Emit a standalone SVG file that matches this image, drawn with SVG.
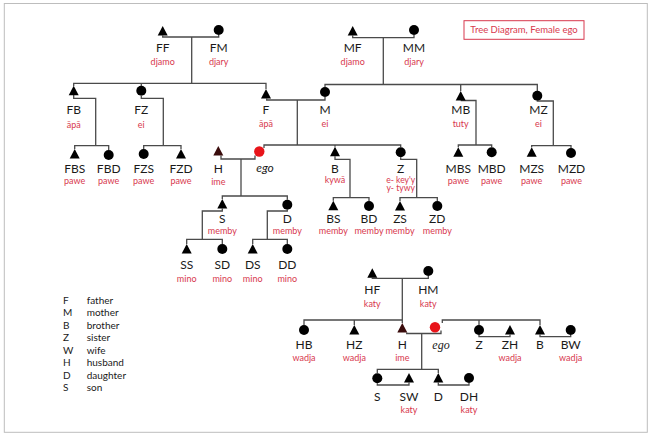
<svg xmlns="http://www.w3.org/2000/svg" width="654" height="438" viewBox="0 0 654 438">
<style>
.c{fill:none;stroke:#4a4a4a;stroke-width:1.3}
.k{font-family:Lato,"Open Sans",sans-serif;font-size:12px;fill:#1a1a1a;text-anchor:middle}
.r{font-family:Lato,"Open Sans",sans-serif;font-size:9px;fill:#d8384e;text-anchor:middle}
.e{font-family:Lato,"Open Sans",sans-serif;font-size:12px;font-style:italic;fill:#1a1a1a;text-anchor:middle}
.es{font-family:"Liberation Serif",serif;font-size:12px;font-style:italic;fill:#1a1a1a;text-anchor:middle}
.lg{font-family:Lato,"Open Sans",sans-serif;font-size:10px;fill:#1a1a1a}
.sym{fill:#000}
</style>
<defs>
<path id="tri" d="M0,-5 L5,4.5 L-5,4.5 Z"/>
<circle id="cir" r="5"/>
</defs>
<rect width="654" height="438" fill="#fff"/>
<rect x="4.3" y="3.5" width="643" height="428.8" fill="none" stroke="#bdbdbd" stroke-width="1"/>
<g id="title">
<rect x="464" y="20.7" width="120" height="18.6" fill="none" stroke="#d8384e" stroke-width="1"/>
<text x="524" y="33.3" class="r" style="font-size:9.5px">Tree Diagram, Female ego</text>
</g>
<g id="connectors">
<path class="c" d="M162.7,35.5 V37 H218.7 V35"/>
<path class="c" d="M191.7,37 V83.3"/>
<path class="c" d="M73.7,86 V83.3 H266 V89"/>
<path class="c" d="M141.3,83.3 V86"/>
<path class="c" d="M352.7,35.5 V37.7 H414 V35"/>
<path class="c" d="M383.3,37.7 V84.5"/>
<path class="c" d="M325,87 V84.5 H537.3 V91"/>
<path class="c" d="M460.7,84.5 V91"/>
<path class="c" d="M266.7,98.5 V100 H325 V97"/>
<path class="c" d="M297.3,100 V145"/>
<path class="c" d="M264,148 V145 H400.7 V147.3"/>
<path class="c" d="M335,145 V146.7"/>
<path class="c" d="M73.7,95 V98.3 H95.7 V145.7"/>
<path class="c" d="M74.7,149 V145.7 H108.7 V150"/>
<path class="c" d="M141.3,96 V98.3 H163.3 V145.7"/>
<path class="c" d="M143.7,149 V145.7 H181 V149"/>
<path class="c" d="M460.7,100.5 H476 V145"/>
<path class="c" d="M458.3,147.3 V145 H491.7 V147.3"/>
<path class="c" d="M537.3,100.7 V101 H553.3 V145.7"/>
<path class="c" d="M531.7,147.3 V145.7 H571 V148"/>
<path class="c" d="M221,155.5 V159 H255 V155.5"/>
<path class="c" d="M241,159 V196"/>
<path class="c" d="M222.3,199 V196 H287.3 V199.7"/>
<path class="c" d="M222.3,208.5 V211 H202.3 V239.3"/>
<path class="c" d="M186.7,244 V239.3 H222.3 V244"/>
<path class="c" d="M287.3,209.7 V211 H267.3 V239.3"/>
<path class="c" d="M252.7,244 V239.3 H287.3 V244"/>
<path class="c" d="M335,156.2 V159.3 H350 V197.7"/>
<path class="c" d="M333.3,200.7 V197.7 H369 V201"/>
<path class="c" d="M400.7,157.3 V159.3 H416.7 V197.7"/>
<path class="c" d="M400,201 V197.7 H437.3 V201"/>
<path class="c" d="M372.3,277.8 V278.3 H428.3 V276"/>
<path class="c" d="M402.3,278.3 V323"/>
<path class="c" d="M304,325 V320 H402.3"/>
<path class="c" d="M354.3,320 V325"/>
<path class="c" d="M406.7,332.5 V333.5 H441 V330.5"/>
<path class="c" d="M442.3,323 V320 H540 V325"/>
<path class="c" d="M479,320 V325"/>
<path class="c" d="M479,335 V336.7 H510 V334.5"/>
<path class="c" d="M540,334.5 V336.7 H570.7 V335"/>
<path class="c" d="M421.7,333.5 V369.3"/>
<path class="c" d="M377.3,373.3 V369.3 H438.3 V373"/>
<path class="c" d="M377.3,383.3 V385 H409 V382.5"/>
<path class="c" d="M438.3,382.5 V385 H469 V383"/>
</g>
<g id="FF"><use href="#tri" class="sym" x="162.7" y="31"/><text x="162.7" y="51.5" class="k">FF</text><text x="162.7" y="65" class="r">djamo</text></g>
<g id="FM"><use href="#cir" class="sym" x="218.7" y="30"/><text x="218.7" y="51.5" class="k">FM</text><text x="218.7" y="65" class="r">djary</text></g>
<g id="MF"><use href="#tri" class="sym" x="352.7" y="31"/><text x="352.7" y="51.5" class="k">MF</text><text x="352.7" y="65" class="r">djamo</text></g>
<g id="MM"><use href="#cir" class="sym" x="414" y="30"/><text x="414" y="51.5" class="k">MM</text><text x="414" y="65" class="r">djary</text></g>
<g id="FB"><use href="#tri" class="sym" x="73.7" y="90.7"/><text x="73.7" y="114" class="k">FB</text><text x="73.7" y="127.8" class="r">āpā</text></g>
<g id="FZ"><use href="#cir" class="sym" x="141.3" y="90.7"/><text x="141.3" y="114" class="k">FZ</text><text x="141.3" y="127.8" class="r">ei</text></g>
<g id="F"><use href="#tri" class="sym" x="266" y="94"/><text x="266" y="114" class="k">F</text><text x="266" y="127.3" class="r">āpā</text></g>
<g id="M"><use href="#cir" class="sym" x="325" y="92"/><text x="325" y="114" class="k">M</text><text x="325" y="127.3" class="r">ei</text></g>
<g id="MB"><use href="#tri" class="sym" x="460.7" y="96"/><text x="460.7" y="114" class="k">MB</text><text x="460.7" y="127.3" class="r">tuty</text></g>
<g id="MZ"><use href="#cir" class="sym" x="537.3" y="95.7"/><text x="538.5" y="114" class="k">MZ</text><text x="538.5" y="127.3" class="r">ei</text></g>
<g id="FBS"><use href="#tri" class="sym" x="74.7" y="154"/><text x="74.7" y="172.5" class="k">FBS</text><text x="74.7" y="184" class="r">pawe</text></g>
<g id="FBD"><use href="#cir" class="sym" x="108.7" y="155"/><text x="108.7" y="172.5" class="k">FBD</text><text x="108.7" y="184" class="r">pawe</text></g>
<g id="FZS"><use href="#cir" class="sym" x="143.7" y="154"/><text x="143.7" y="172.5" class="k">FZS</text><text x="143.7" y="184" class="r">pawe</text></g>
<g id="FZD"><use href="#tri" class="sym" x="181" y="154"/><text x="181" y="172.5" class="k">FZD</text><text x="181" y="184" class="r">pawe</text></g>
<g id="H"><use href="#tri" fill="#3a0c0c" x="218.3" y="151"/><text x="218.3" y="172.5" class="k">H</text><text x="218.3" y="185.3" class="r">ime</text></g>
<g id="ego"><circle cx="259.3" cy="151.5" r="5.2" fill="#e8141a"/><text x="265" y="172" class="e">ego</text></g>
<g id="B"><use href="#tri" class="sym" x="335" y="151.7"/><text x="335" y="172.5" class="k">B</text><text x="335" y="183.3" class="r">kywā</text></g>
<g id="Z"><use href="#cir" class="sym" x="400.7" y="152.3"/><text x="400.7" y="172.5" class="k">Z</text><text x="400.7" y="183" class="r" style="font-size:8.6px">e- key'y</text><text x="400.7" y="191.3" class="r" style="font-size:8.6px">y- tywy</text></g>
<g id="MBS"><use href="#tri" class="sym" x="458.3" y="152.3"/><text x="458.3" y="172.5" class="k">MBS</text><text x="458.3" y="184" class="r">pawe</text></g>
<g id="MBD"><use href="#cir" class="sym" x="491.7" y="152.3"/><text x="491.7" y="172.5" class="k">MBD</text><text x="491.7" y="184" class="r">pawe</text></g>
<g id="MZS"><use href="#tri" class="sym" x="531.7" y="152.3"/><text x="531.7" y="172.5" class="k">MZS</text><text x="531.7" y="184" class="r">pawe</text></g>
<g id="MZD"><use href="#cir" class="sym" x="571" y="153"/><text x="571.5" y="172.5" class="k">MZD</text><text x="571.5" y="184" class="r">pawe</text></g>
<g id="S"><use href="#tri" class="sym" x="222.3" y="204"/><text x="222.3" y="222.5" class="k">S</text><text x="222.3" y="234.3" class="r">memby</text></g>
<g id="D"><use href="#cir" class="sym" x="287.3" y="204.7"/><text x="287.3" y="222.5" class="k">D</text><text x="287.3" y="234.3" class="r">memby</text></g>
<g id="BS"><use href="#tri" class="sym" x="333.3" y="205.7"/><text x="333.3" y="222.5" class="k">BS</text><text x="333.3" y="234.3" class="r">memby</text></g>
<g id="BD"><use href="#cir" class="sym" x="369" y="206"/><text x="369" y="222.5" class="k">BD</text><text x="369" y="234.3" class="r">memby</text></g>
<g id="ZS"><use href="#tri" class="sym" x="400" y="206"/><text x="400" y="222.5" class="k">ZS</text><text x="400" y="234.3" class="r">memby</text></g>
<g id="ZD"><use href="#cir" class="sym" x="437.3" y="206"/><text x="437.3" y="222.5" class="k">ZD</text><text x="437.3" y="234.3" class="r">memby</text></g>
<g id="SS"><use href="#tri" class="sym" x="186.7" y="249"/><text x="186.7" y="269" class="k">SS</text><text x="186.7" y="281.8" class="r">mino</text></g>
<g id="SD"><use href="#cir" class="sym" x="222.3" y="249"/><text x="222.3" y="269" class="k">SD</text><text x="222.3" y="281.8" class="r">mino</text></g>
<g id="DS"><use href="#tri" class="sym" x="252.7" y="249"/><text x="252.7" y="269" class="k">DS</text><text x="252.7" y="281.8" class="r">mino</text></g>
<g id="DD"><use href="#cir" class="sym" x="287.3" y="249"/><text x="287.3" y="269" class="k">DD</text><text x="287.3" y="281.8" class="r">mino</text></g>
<g id="HF"><use href="#tri" class="sym" x="372.3" y="273.3"/><text x="372.3" y="294" class="k">HF</text><text x="372.3" y="307.3" class="r">katy</text></g>
<g id="HM"><use href="#cir" class="sym" x="428.3" y="271"/><text x="428.3" y="294" class="k">HM</text><text x="428.3" y="307.3" class="r">katy</text></g>
<g id="HB"><use href="#cir" class="sym" x="304" y="330"/><text x="304" y="349" class="k">HB</text><text x="304" y="360.8" class="r">wadja</text></g>
<g id="HZ"><use href="#tri" class="sym" x="354.3" y="330"/><text x="354.3" y="349" class="k">HZ</text><text x="354.3" y="360.8" class="r">wadja</text></g>
<g id="H2"><use href="#tri" fill="#3a0c0c" x="402.3" y="328"/><text x="402.3" y="349" class="k">H</text><text x="402.3" y="360.8" class="r">ime</text></g>
<g id="ego2"><circle cx="435" cy="327.3" r="5.2" fill="#e8141a"/><text x="441" y="348.5" class="es">ego</text></g>
<g id="Z2"><use href="#cir" class="sym" x="479" y="330"/><text x="479" y="349" class="k">Z</text></g>
<g id="ZH"><use href="#tri" class="sym" x="510" y="330"/><text x="510" y="349" class="k">ZH</text><text x="510" y="360.8" class="r">wadja</text></g>
<g id="B2"><use href="#tri" class="sym" x="540" y="330"/><text x="540" y="349" class="k">B</text></g>
<g id="BW"><use href="#cir" class="sym" x="570.7" y="330"/><text x="570.7" y="349" class="k">BW</text><text x="570.7" y="360.8" class="r">wadja</text></g>
<g id="S2"><use href="#cir" class="sym" x="377.3" y="378.3"/><text x="377.3" y="400.5" class="k">S</text></g>
<g id="SW"><use href="#tri" class="sym" x="409" y="378"/><text x="409" y="400.5" class="k">SW</text><text x="409" y="412.8" class="r">katy</text></g>
<g id="D2"><use href="#tri" class="sym" x="438.3" y="378"/><text x="438.3" y="400.5" class="k">D</text></g>
<g id="DH"><use href="#cir" class="sym" x="469" y="378"/><text x="469" y="400.5" class="k">DH</text><text x="469" y="412.8" class="r">katy</text></g>
<g id="legend" class="lg">
<text x="63" y="303.8">F</text><text x="86.7" y="303.8">father</text>
<text x="63" y="316.3">M</text><text x="86.7" y="316.3">mother</text>
<text x="63" y="328.7">B</text><text x="86.7" y="328.7">brother</text>
<text x="63" y="341.2">Z</text><text x="86.7" y="341.2">sister</text>
<text x="63" y="353.6">W</text><text x="86.7" y="353.6">wife</text>
<text x="63" y="366.1">H</text><text x="86.7" y="366.1">husband</text>
<text x="63" y="378.5">D</text><text x="86.7" y="378.5">daughter</text>
<text x="63" y="391">S</text><text x="86.7" y="391">son</text>
</g>
</svg>
